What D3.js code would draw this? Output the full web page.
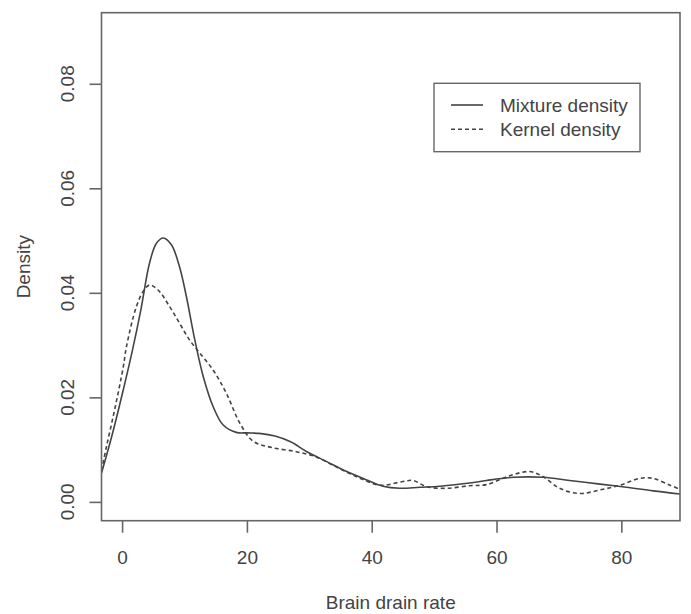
<!DOCTYPE html>
<html>
<head>
<meta charset="utf-8">
<script src="https://cdn.jsdelivr.net/npm/d3@7"></script>
<style>
  body { margin: 0; background: #fff; }
  text { font-family: "Liberation Sans", Arial, sans-serif; fill: #444; }
</style>
</head>
<body>
<div class="container"></div>
<script>
// values
const mixX = [-3.3, -1.6, 0, 1.6, 3.0, 4.4, 5.5, 6.6, 7.9, 9.2, 10.3, 11.65, 13.0, 14.6, 16.2, 18.3, 20, 22, 24.5, 27, 29.6, 32.8, 36, 39.2, 41.8, 44.5, 47.7, 50.9, 55.7, 58.4, 62.7, 67.5, 71.7, 76.6, 80.8, 85.1, 89.4];
const mixY = [0.0055, 0.0128, 0.0205, 0.0287, 0.0367, 0.0457, 0.0495, 0.0505, 0.0492, 0.0450, 0.0393, 0.0310, 0.0240, 0.0182, 0.0147, 0.0133, 0.0132, 0.0131, 0.0126, 0.0115, 0.0096, 0.0077, 0.0058, 0.0042, 0.0030, 0.0026, 0.0028, 0.0030, 0.0036, 0.0041, 0.0047, 0.0047, 0.0041, 0.0034, 0.0028, 0.0021, 0.0015];

const kerX = [-3.3, -2.5, -1.2, 0.2, 0.7, 2.3, 3.5, 4.44, 5.8, 7.6, 9.2, 10.8, 12.5, 14.6, 16.7, 18.9, 21.0, 24.0, 27.9, 31.1, 34.3, 37.6, 41.3, 45.0, 46.6, 48.8, 52.0, 55.7, 58.4, 62.1, 65.3, 67.5, 70.1, 73.3, 76.6, 79.8, 83.0, 85.1, 87.8, 89.4];
const kerY = [0.0060, 0.0106, 0.0176, 0.0259, 0.0297, 0.0374, 0.0405, 0.0415, 0.0405, 0.0374, 0.0342, 0.0310, 0.0284, 0.0252, 0.0208, 0.0150, 0.0116, 0.0104, 0.0096, 0.0086, 0.0067, 0.0048, 0.0032, 0.0039, 0.0041, 0.0029, 0.0026, 0.0031, 0.0033, 0.0050, 0.0058, 0.0048, 0.0026, 0.0016, 0.0023, 0.0032, 0.0045, 0.0045, 0.0032, 0.0024];

const xTicks = [0, 20, 40, 60, 80];
const yTicks = [0.00, 0.02, 0.04, 0.06, 0.08];
const legendLabels = ["Mixture density", "Kernel density"];

const width = 691, height = 614;
const box = {left: 101.5, right: 680, top: 12.7, bottom: 520.7};
const ink = "#444";

const x = d3.scaleLinear().domain([-3.3, 89.4]).range([box.left, box.right]);
const y = d3.scaleLinear().domain([-0.0036, 0.0936]).range([box.bottom, box.top]);

const svg = d3.select('.container')
    .append('svg')
    .attr('width', width)
    .attr('height', height);

svg.append('defs').append('clipPath').attr('id', 'plotclip')
  .append('rect')
    .attr('x', box.left).attr('y', box.top)
    .attr('width', box.right - box.left).attr('height', box.bottom - box.top);

// curves
const line = d3.line()
    .x(d => x(d[0]))
    .y(d => y(d[1]))
    .curve(d3.curveCatmullRom.alpha(0.5));

const mix = mixX.map((v, i) => [v, mixY[i]]);
const ker = kerX.map((v, i) => [v, kerY[i]]);

const plot = svg.append('g').attr('clip-path', 'url(#plotclip)');
plot.append('path')
    .attr('d', line(mix))
    .attr('fill', 'none')
    .attr('stroke', ink)
    .attr('stroke-width', 1.6);
plot.append('path')
    .attr('d', line(ker))
    .attr('fill', 'none')
    .attr('stroke', ink)
    .attr('stroke-width', 1.6)
    .attr('stroke-dasharray', '4,3');

// frame
svg.append('rect')
    .attr('x', box.left).attr('y', box.top)
    .attr('width', box.right - box.left).attr('height', box.bottom - box.top)
    .attr('fill', 'none')
    .attr('stroke', '#666')
    .attr('stroke-width', 1.6);

// x axis
const xAxis = svg.append('g')
    .attr('transform', 'translate(0,' + box.bottom + ')')
    .call(d3.axisBottom(x).tickValues(xTicks).tickSize(12).tickPadding(18).tickSizeOuter(0));
xAxis.select('.domain').remove();
xAxis.selectAll('line').attr('stroke', '#666').attr('stroke-width', 1.6);
xAxis.selectAll('text')
    .attr('fill', ink)
    .style('font-size', '19px')
    .style('font-family', '"Liberation Sans", Arial, sans-serif');

// y axis
const yAxis = svg.append('g')
    .attr('transform', 'translate(' + box.left + ',0)')
    .call(d3.axisLeft(y).tickValues(yTicks).tickSize(12).tickFormat('').tickSizeOuter(0));
yAxis.select('.domain').remove();
yAxis.selectAll('line').attr('stroke', '#666').attr('stroke-width', 1.6);

svg.selectAll('.ylab')
  .data(yTicks)
  .enter().append('text')
    .attr('class', 'ylab')
    .attr('transform', d => 'translate(74,' + y(d) + ') rotate(-90)')
    .attr('text-anchor', 'middle')
    .style('font-size', '19px')
    .text(d3.format('.2f'));

// axis titles
svg.append('text')
    .attr('x', (box.left + box.right) / 2)
    .attr('y', 609)
    .attr('text-anchor', 'middle')
    .style('font-size', '19px')
    .text('Brain drain rate');

svg.append('text')
    .attr('transform', 'translate(30,' + ((box.top + box.bottom) / 2) + ') rotate(-90)')
    .attr('text-anchor', 'middle')
    .style('font-size', '19px')
    .text('Density');

// legend
const legend = svg.append('g');
legend.append('rect')
    .attr('x', 434).attr('y', 83.3)
    .attr('width', 206).attr('height', 68.4)
    .attr('fill', '#fff')
    .attr('stroke', '#666')
    .attr('stroke-width', 1.4);

legend.selectAll('line')
  .data(legendLabels)
  .enter().append('line')
    .attr('x1', 451).attr('x2', 483)
    .attr('y1', (d, i) => 105 + i * 24.3)
    .attr('y2', (d, i) => 105 + i * 24.3)
    .attr('stroke', ink)
    .attr('stroke-width', 1.6)
    .attr('stroke-dasharray', (d, i) => i ? '4,3' : null);

legend.selectAll('text')
  .data(legendLabels)
  .enter().append('text')
    .attr('x', 500)
    .attr('y', (d, i) => 112 + i * 24.3)
    .style('font-size', '19px')
    .text(d => d);
</script>
</body>
</html>
